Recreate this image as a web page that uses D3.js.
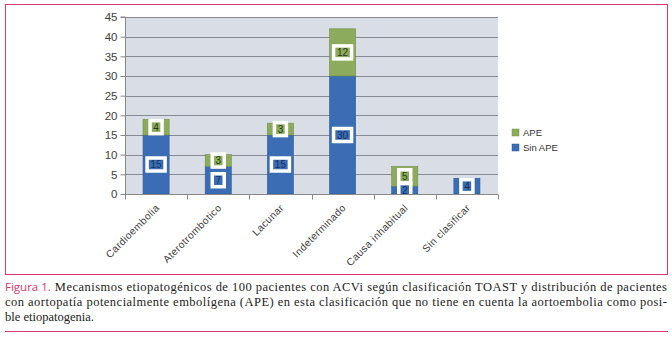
<!DOCTYPE html>
<html><head><meta charset="utf-8">
<script src="https://cdn.jsdelivr.net/npm/d3@7"></script>
<style>body{margin:0;background:#fff}svg{display:block}</style>
</head><body>
<svg id="c" width="672" height="337"></svg>
<script>
const categories = ["Cardioembolia","Aterotrombotico","Lacunar","Indeterminado","Causa inhabitual","Sin clasificar"];
const sinAPE = [15, 7, 15, 30, 2, 4];
const APE = [4, 3, 3, 12, 5, 0];
const yTicks = [0,5,10,15,20,25,30,35,40,45];
const seriesNames = ["APE","Sin APE"];
const captionLines = [
  "Mecanismos etiopatogénicos de 100 pacientes con ACVi según clasificación TOAST y distribución de pacientes",
  "con aortopatía potencialmente embolígena (APE) en esta clasificación que no tiene en cuenta la aortoembolia como posi-",
  "ble etiopatogenia."
];

const svg = d3.select("#c");
const pink = "#d8386a";
const blue = "#3a6db4", blueStroke = "#2f5c9c", blueText = "#16305e";
const green = "#8cab5c", greenStroke = "#728f48", greenText = "#2b3915";

// frame
svg.append("rect").attr("x",5.5).attr("y",4.5).attr("width",662).attr("height",270)
  .attr("fill","none").attr("stroke",pink).attr("stroke-width",1);
svg.append("line").attr("x1",5).attr("x2",668).attr("y1",331.5).attr("y2",331.5)
  .attr("stroke",pink).attr("stroke-width",1);

const L=125, R=498, T=17, B=194;
const x = d3.scaleBand().domain(categories).range([L,R]).padding(0);
const y = d3.scaleLinear().domain([0,45]).range([B,T]);

svg.append("rect").attr("x",L).attr("y",T).attr("width",R-L).attr("height",B-T).attr("fill","#d9dde5");

// gridlines
svg.append("g").selectAll("line").data(yTicks.filter(d=>d>0)).join("line")
  .attr("x1",L).attr("x2",R).attr("y1",d=>Math.round(y(d))+0.5).attr("y2",d=>Math.round(y(d))+0.5)
  .attr("stroke","#858a93").attr("stroke-width",1);

// y axis
const ya = svg.append("g").attr("transform",`translate(${L+0.5},0)`)
  .call(d3.axisLeft(y).tickValues(yTicks).tickSize(5).tickPadding(3));
ya.select(".domain").attr("stroke","#888").attr("d",`M-5,${T}H0V${B}`);
ya.selectAll(".tick line").attr("stroke","#888");
ya.selectAll(".tick text").attr("font-family","Liberation Sans, Arial, sans-serif").attr("font-size",11.5).attr("fill","#404040");

// bars
const bw = x.bandwidth()*0.42;
const g = svg.append("g");
categories.forEach((c,i)=>{
  const cx = x(c)+x.bandwidth()/2;
  const segs = [
    {v0:0, v1:sinAPE[i], fill:blue, stroke:blueStroke, tc:blueText, val:sinAPE[i]},
    {v0:sinAPE[i], v1:sinAPE[i]+APE[i], fill:green, stroke:greenStroke, tc:greenText, val:APE[i]}
  ];
  segs.forEach(s=>{
    if(s.val<=0) return;
    g.append("rect").attr("x",cx-bw/2).attr("y",y(s.v1)).attr("width",bw).attr("height",y(s.v0)-y(s.v1))
      .attr("fill",s.fill).attr("stroke",s.stroke).attr("stroke-width",0.6);
  });
  segs.forEach(s=>{
    if(s.val<=0) return;
    const my = y((s.v0+s.v1)/2);
    const t = String(s.val);
    const w = 6*t.length+6, h = 13;
    g.append("rect").attr("x",cx-w/2).attr("y",my-h/2).attr("width",w).attr("height",h)
      .attr("fill",s.fill).attr("stroke","#fff").attr("stroke-width",3.5);
    g.append("text").attr("x",cx).attr("y",my+3.6).attr("text-anchor","middle")
      .attr("font-family","Liberation Sans, Arial, sans-serif").attr("font-size",10)
      .attr("fill",s.tc).text(t);
  });
});

// x axis
const xa = svg.append("g").attr("transform",`translate(0,${B+0.5})`);
xa.append("line").attr("x1",L).attr("x2",R).attr("stroke","#888");
xa.selectAll("line.tk").data(categories.concat(["__end"])).join("line").attr("class","tk")
  .attr("x1",(d,i)=>Math.round(L+i*x.step())+0.5).attr("x2",(d,i)=>Math.round(L+i*x.step())+0.5)
  .attr("y1",0).attr("y2",5).attr("stroke","#888");
xa.selectAll("text").data(categories).join("text")
  .attr("transform",d=>`translate(${x(d)+x.bandwidth()/2+4},${14}) rotate(-45)`)
  .attr("text-anchor","end")
  .attr("font-family","Liberation Sans, Arial, sans-serif").attr("font-size",10.2)
  .attr("letter-spacing",0.4).attr("fill","#404040").text(d=>d);

// legend
const lg = svg.append("g");
[[seriesNames[0],green,greenStroke],[seriesNames[1],blue,blueStroke]].forEach((d,i)=>{
  lg.append("rect").attr("x",512).attr("y",129+i*15).attr("width",7).attr("height",7)
    .attr("fill",d[1]).attr("stroke",d[2]).attr("stroke-width",0.5);
  lg.append("text").attr("x",523).attr("y",136+i*15).attr("font-family","Liberation Sans, Arial, sans-serif")
    .attr("font-size",9.5).attr("fill","#333").text(d[0]);
});

// caption
const cap = svg.append("g");
const fig = cap.append("text").attr("x",5).attr("y",291)
  .attr("font-family","Open Sans, Liberation Sans, sans-serif").attr("font-size",11.5).attr("fill",pink)
  .text("Figura 1.");
const fw = fig.node().getComputedTextLength();
const serif = "Liberation Serif, DejaVu Serif, serif";
cap.append("text").attr("x",5+fw+4).attr("y",291).attr("font-family",serif).attr("font-size",12.5)
  .attr("fill","#222").attr("textLength",667-(5+fw+4)).attr("lengthAdjust","spacing").text(captionLines[0]);
cap.append("text").attr("x",5).attr("y",306).attr("font-family",serif).attr("font-size",12.5)
  .attr("fill","#222").attr("textLength",662).attr("lengthAdjust","spacing").text(captionLines[1]);
cap.append("text").attr("x",5).attr("y",321).attr("font-family",serif).attr("font-size",12.5)
  .attr("fill","#222").text(captionLines[2]);
</script>
</body></html>
